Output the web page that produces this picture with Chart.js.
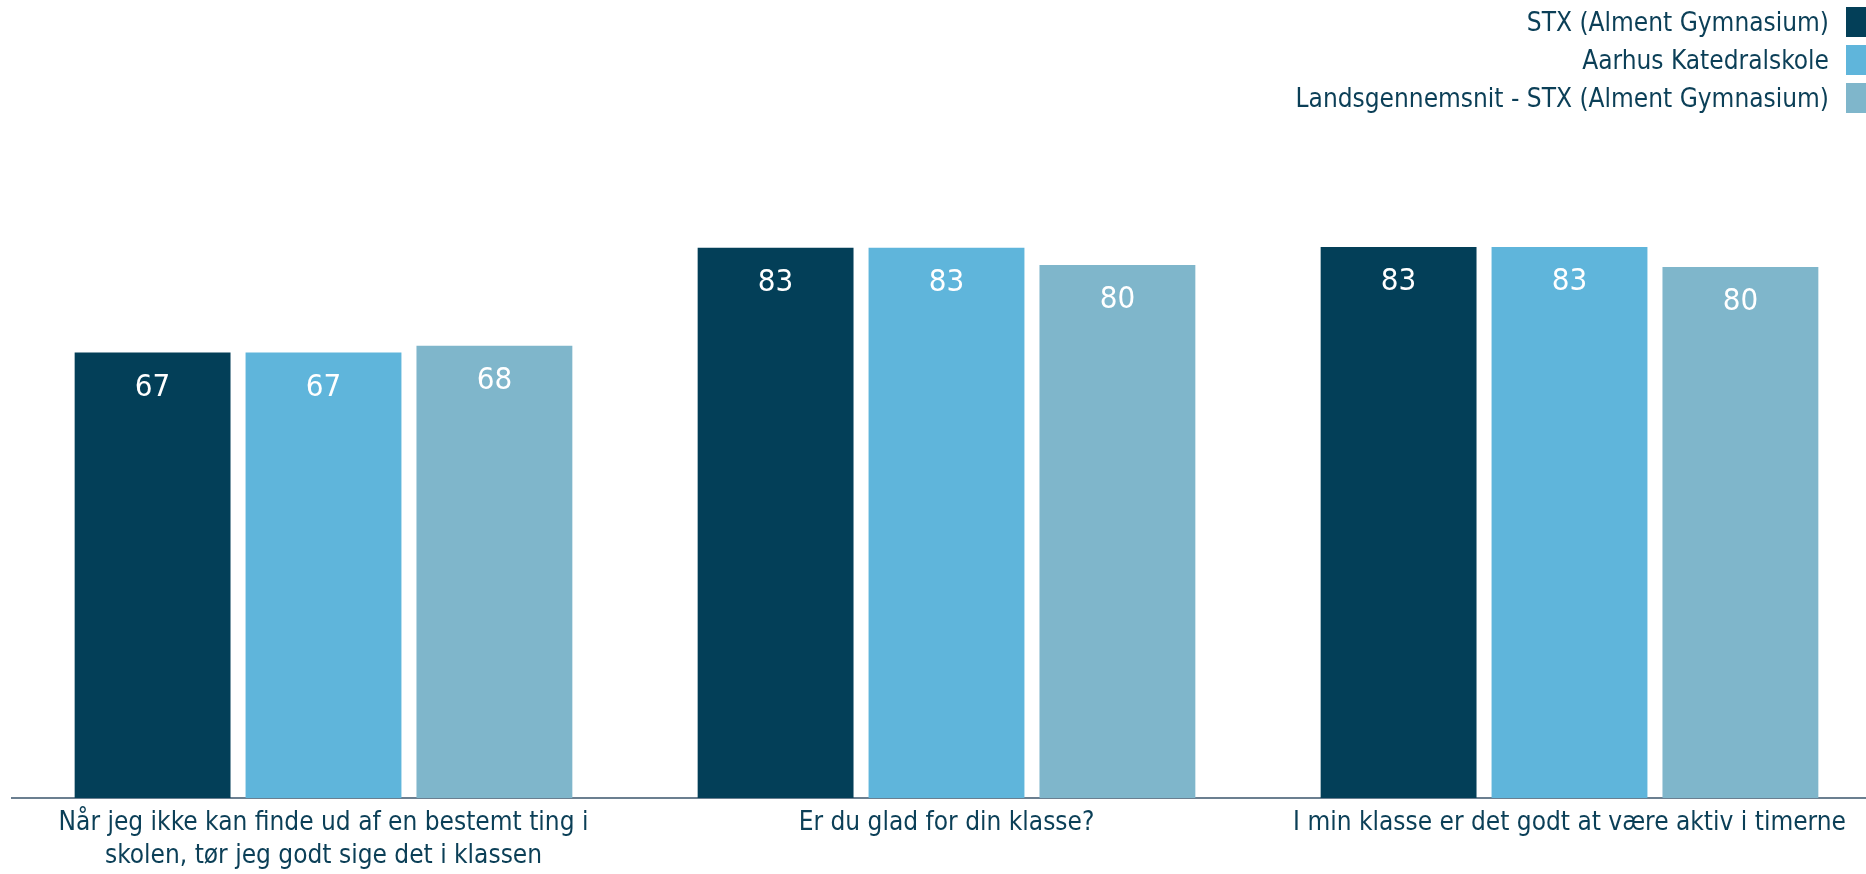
<!DOCTYPE html>
<html lang="da">
<head>
<meta charset="utf-8">
<title>Klassetrivsel</title>
<script src="https://cdn.jsdelivr.net/npm/chart.js@4.4.1/dist/chart.umd.min.js"></script>
<style>
  html, body { margin: 0; padding: 0; background: #fff; overflow: hidden; }
  #wrap { position: relative; width: 1866px; height: 874px; overflow: hidden; }
  #chart { position: absolute; left: 0; top: 0; }
  #legend { position: absolute; top: 7px; right: -12px; margin: 0; padding: 0; list-style: none; }
  #legend li { display: flex; justify-content: flex-end; align-items: center; height: 30px; margin-bottom: 8px;
    font-family: "DejaVu Sans Condensed", sans-serif; font-size: 26px; color: #0b3f57; }
  #legend .box { width: 32px; height: 30px; margin-left: 17px; }
</style>
</head>
<body>
<div id="wrap">
  <canvas id="chart" width="1881" height="881"></canvas>
  <ul id="legend"></ul>
</div>
<script>
const categories = [
  ['Når jeg ikke kan finde ud af en bestemt ting i', 'skolen, tør jeg godt sige det i klassen'],
  'Er du glad for din klasse?',
  'I min klasse er det godt at være aktiv i timerne'
];
const seriesNames = ['STX (Alment Gymnasium)', 'Aarhus Katedralskole', 'Landsgennemsnit - STX (Alment Gymnasium)'];
const stxValues = [67.2, 83.0, 83.1];
const aarhusValues = [67.2, 83.0, 83.1];
const landsValues = [68.2, 80.4, 80.1];
const seriesColors = ['#033f58', '#5fb5db', '#7fb6cb'];
const yMin = 0;
const yMax = 100;

const textColor = '#0b3f57';
const fontFamily = '"DejaVu Sans Condensed", sans-serif';

// white value labels just under the top of each bar
const barValueLabels = {
  id: 'barValueLabels',
  afterDatasetsDraw(chart) {
    const ctx = chart.ctx;
    ctx.save();
    ctx.fillStyle = '#ffffff';
    ctx.font = '31px ' + fontFamily;
    ctx.textAlign = 'center';
    ctx.textBaseline = 'middle';
    chart.data.datasets.forEach((ds, i) => {
      chart.getDatasetMeta(i).data.forEach((bar, j) => {
        ctx.fillText(String(Math.round(ds.data[j])), bar.x, bar.y + 35);
      });
    });
    ctx.restore();
  }
};

const htmlLegend = {
  id: 'htmlLegend',
  afterUpdate(chart) {
    const list = document.getElementById('legend');
    list.innerHTML = '';
    const items = chart.options.plugins.legend.labels.generateLabels(chart);
    items.forEach((item) => {
      const li = document.createElement('li');
      const text = document.createElement('span');
      text.textContent = item.text;
      const box = document.createElement('span');
      box.className = 'box';
      box.style.background = item.fillStyle;
      li.appendChild(text);
      li.appendChild(box);
      list.appendChild(li);
    });
  }
};

const chart = new Chart(document.getElementById('chart'), {
  type: 'bar',
  data: {
    labels: categories,
    datasets: [
      { label: seriesNames[0], data: stxValues, backgroundColor: seriesColors[0] },
      { label: seriesNames[1], data: aarhusValues, backgroundColor: seriesColors[1] },
      { label: seriesNames[2], data: landsValues, backgroundColor: seriesColors[2] }
    ]
  },
  options: {
    responsive: false,
    animation: false,
    devicePixelRatio: 1,
    categoryPercentage: 0.823,
    barPercentage: 0.912,
    layout: { padding: { left: 12, right: 0, top: 135, bottom: 0 } },
    scales: {
      x: {
        offset: true,
        grid: { display: false, drawTicks: false },
        border: { display: true, color: '#6b7f90', width: 2 },
        ticks: {
          color: textColor,
          font: { family: fontFamily, size: 26, lineHeight: 33 / 26 },
          padding: 8.5,
          maxRotation: 0,
          autoSkip: false
        }
      },
      y: { display: false, min: yMin, max: yMax }
    },
    plugins: {
      legend: { display: false },
      tooltip: { enabled: false }
    }
  },
  plugins: [barValueLabels, htmlLegend]
});
</script>
</body>
</html>
